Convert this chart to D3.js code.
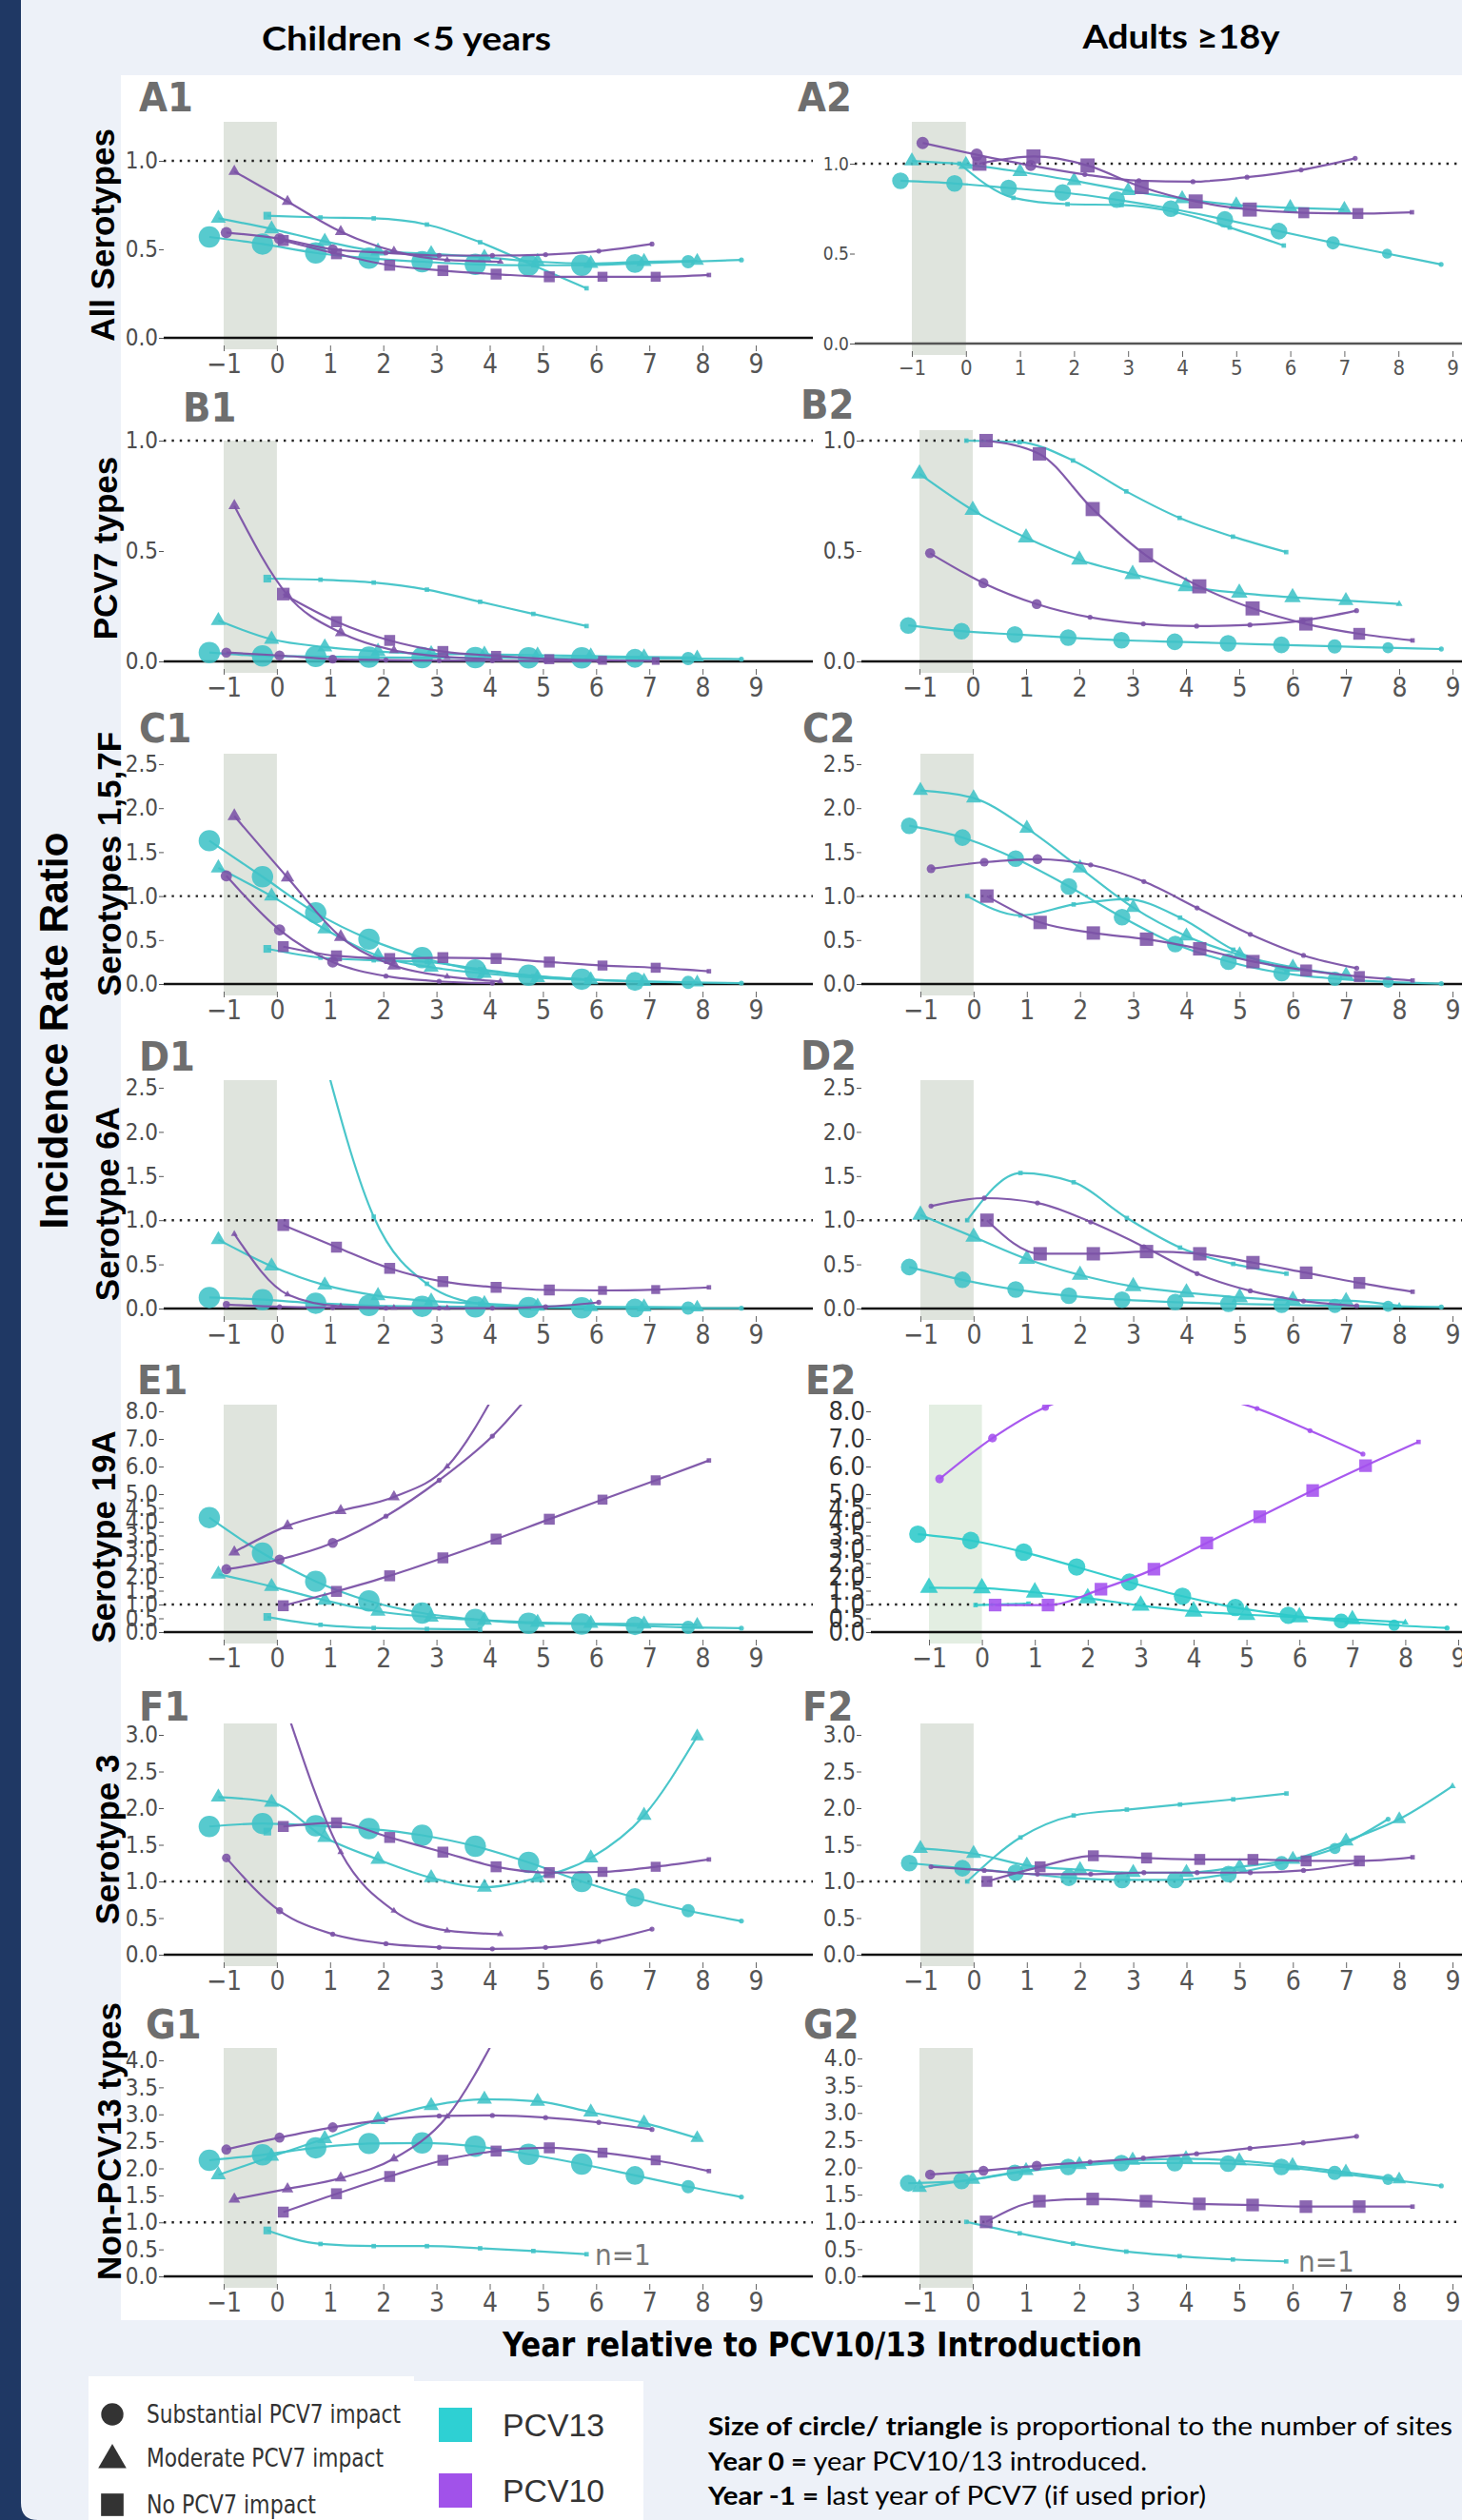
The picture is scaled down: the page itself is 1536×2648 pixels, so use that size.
<!DOCTYPE html>
<html>
<head>
<meta charset="utf-8">
<script src="https://cdnjs.cloudflare.com/ajax/libs/d3/7.8.5/d3.min.js"></script>
<style>
  body { margin: 0; background: #edf1f8; }
</style>
</head>
<body>
<svg id="fig" width="1536" height="2648"></svg>
<script>
// ---------- DATA (IRR by year relative to PCV10/13 introduction) ----------
// each series: vaccine, PCV7-impact shape, first year, IRR values, number of sites per point
const A1 = [
  {vac: "PCV13", shape: "circle",   from: -1, irr: [0.57,0.53,0.48,0.45,0.43,0.415,0.41,0.41,0.42,0.43,0.44], n: [18,18,18,18,18,18,18,18,14,7,1]},
  {vac: "PCV13", shape: "triangle", from: -1, irr: [0.675,0.615,0.545,0.49,0.475,0.455,0.43,0.42,0.43,0.435], n: [5,5,5,5,5,5,5,5,5,4]},
  {vac: "PCV13", shape: "square",   from: 0,  irr: [0.69,0.68,0.675,0.64,0.54,0.41,0.28], n: [3,1,1,1,1,1,1]},
  {vac: "PCV10", shape: "circle",   from: -1, irr: [0.595,0.56,0.50,0.48,0.465,0.465,0.47,0.49,0.53], n: [5,5,4,1,1,1,1,1,1]},
  {vac: "PCV10", shape: "triangle", from: -1, irr: [0.94,0.77,0.60,0.49,0.44,0.43], n: [3,3,3,2,1,1]},
  {vac: "PCV10", shape: "square",   from: 0,  irr: [0.55,0.475,0.41,0.38,0.36,0.345,0.345,0.345,0.355], n: [6,6,6,6,6,6,5,5,1]}
];
const A2 = [
  {vac: "PCV13", shape: "square",   from: 0,  irr: [1.0,0.81,0.775,0.77,0.73,0.645,0.545], n: [1,1,1,1,1,1,1]},
  {vac: "PCV13", shape: "circle",   from: -1, irr: [0.905,0.89,0.865,0.84,0.80,0.75,0.69,0.625,0.56,0.50,0.44], n: [11,11,11,11,11,11,11,11,7,4,1]},
  {vac: "PCV13", shape: "triangle", from: -1, irr: [1.015,0.995,0.955,0.905,0.85,0.805,0.77,0.755,0.745], n: [5,5,5,5,5,5,5,5,5]},
  {vac: "PCV10", shape: "circle",   from: -1, irr: [1.115,1.05,0.99,0.94,0.905,0.90,0.925,0.965,1.03], n: [6,6,5,1,1,1,1,1,1]},
  {vac: "PCV10", shape: "square",   from: 0,  irr: [1.0,1.04,0.99,0.87,0.79,0.745,0.727,0.723,0.73], n: [10,10,10,10,10,10,6,6,1]}
];
const B1 = [
  {vac: "PCV13", shape: "square",   from: 0,  irr: [0.375,0.37,0.357,0.325,0.27,0.215,0.16], n: [3,1,1,1,1,1,1]},
  {vac: "PCV13", shape: "triangle", from: -1, irr: [0.185,0.10,0.065,0.045,0.035,0.032,0.028,0.024,0.02,0.018], n: [5,5,5,5,5,5,5,5,5,4]},
  {vac: "PCV13", shape: "circle",   from: -1, irr: [0.04,0.025,0.022,0.019,0.017,0.017,0.016,0.016,0.014,0.013,0.01], n: [18,18,18,18,18,18,18,18,14,7,1]},
  {vac: "PCV10", shape: "circle",   from: -1, irr: [0.04,0.027,0.01,0.006,0.004,0.003,0.002,0.002], n: [4,4,3,1,1,1,1,1]},
  {vac: "PCV10", shape: "triangle", from: -1, irr: [0.705,0.30,0.13,0.05,0.02,0.01], n: [3,2,3,2,1,1]},
  {vac: "PCV10", shape: "square",   from: 0,  irr: [0.305,0.18,0.095,0.045,0.025,0.01,0.005,0.002], n: [8,6,6,6,5,5,4,3]}
];
const B2 = [
  {vac: "PCV13", shape: "square",   from: 0,  irr: [1.0,0.993,0.91,0.77,0.65,0.565,0.495], n: [1,1,1,1,1,1,1]},
  {vac: "PCV13", shape: "triangle", from: -1, irr: [0.85,0.685,0.56,0.46,0.395,0.34,0.31,0.29,0.275,0.26], n: [6,6,6,6,6,6,6,6,5,1]},
  {vac: "PCV13", shape: "circle",   from: -1, irr: [0.163,0.137,0.122,0.108,0.096,0.089,0.082,0.075,0.068,0.062,0.056], n: [11,11,11,11,11,11,11,11,8,5,1]},
  {vac: "PCV10", shape: "circle",   from: -1, irr: [0.49,0.355,0.26,0.20,0.17,0.16,0.165,0.185,0.23], n: [4,4,4,1,1,1,1,1,1]},
  {vac: "PCV10", shape: "square",   from: 0,  irr: [1.0,0.94,0.69,0.48,0.34,0.24,0.17,0.125,0.095], n: [9,9,10,10,10,10,9,7,1]}
];
const C1 = [
  {vac: "PCV13", shape: "square",   from: 0,  irr: [0.40,0.30,0.27,0.25,0.17,0.09,0.05], n: [3,1,1,1,1,1,1]},
  {vac: "PCV13", shape: "circle",   from: -1, irr: [1.63,1.22,0.81,0.51,0.30,0.16,0.10,0.055,0.03,0.018,0.01], n: [18,18,18,18,18,18,18,18,14,7,1]},
  {vac: "PCV13", shape: "triangle", from: -1, irr: [1.32,1.0,0.625,0.32,0.19,0.12,0.072,0.047,0.029,0.018], n: [5,5,5,5,5,5,5,5,5,4]},
  {vac: "PCV10", shape: "circle",   from: -1, irr: [1.23,0.615,0.25,0.09,0.03,0.01], n: [5,5,5,1,1,1]},
  {vac: "PCV10", shape: "triangle", from: -1, irr: [1.91,1.21,0.535,0.21,0.085,0.03], n: [4,4,4,4,1,1]},
  {vac: "PCV10", shape: "square",   from: 0,  irr: [0.425,0.32,0.29,0.30,0.29,0.25,0.21,0.185,0.145], n: [6,6,6,6,6,6,5,5,1]}
];
const C2 = [
  {vac: "PCV13", shape: "square",   from: 0,  irr: [1.0,0.78,0.905,0.965,0.755,0.39,0.155], n: [1,1,1,1,1,1,1]},
  {vac: "PCV13", shape: "triangle", from: -1, irr: [2.2,2.115,1.77,1.32,0.87,0.545,0.33,0.19,0.10], n: [5,5,5,5,5,5,5,5,5]},
  {vac: "PCV13", shape: "circle",   from: -1, irr: [1.80,1.665,1.425,1.11,0.76,0.455,0.255,0.125,0.06,0.022,0.005], n: [11,11,11,11,11,11,11,11,8,5,1]},
  {vac: "PCV10", shape: "circle",   from: -1, irr: [1.31,1.385,1.42,1.355,1.165,0.865,0.565,0.325,0.18], n: [3,3,4,1,1,1,1,1,1]},
  {vac: "PCV10", shape: "square",   from: 0,  irr: [1.0,0.70,0.58,0.51,0.40,0.255,0.155,0.085,0.04], n: [9,9,9,9,9,9,7,6,1]}
];
const D1 = [
  {vac: "PCV13", shape: "square",   from: 1,  irr: [3.0,1.04,0.28,0.055,0.015,0.01], n: [1,1,1,1,1,1]},
  {vac: "PCV13", shape: "triangle", from: -1, irr: [0.78,0.48,0.265,0.145,0.085,0.055,0.025,0.02,0.018,0.012], n: [5,5,5,5,5,5,5,5,5,4]},
  {vac: "PCV13", shape: "circle",   from: -1, irr: [0.125,0.10,0.06,0.035,0.025,0.018,0.012,0.008,0.006,0.005,0.004], n: [18,18,18,18,18,18,18,18,14,7,1]},
  {vac: "PCV10", shape: "circle",   from: -1, irr: [0.045,0.02,0.01,0.005,0.005,0.005,0.02,0.07], n: [2,1,1,1,1,1,1,1]},
  {vac: "PCV10", shape: "triangle", from: -1, irr: [0.845,0.16,0.025,0.01,0.005], n: [1,1,1,1,1]},
  {vac: "PCV10", shape: "square",   from: 0,  irr: [0.945,0.695,0.455,0.305,0.24,0.21,0.205,0.215,0.24], n: [7,6,6,6,6,6,4,4,1]}
];
const D2 = [
  {vac: "PCV13", shape: "square",   from: 0,  irr: [1.0,1.535,1.43,1.025,0.69,0.505,0.395], n: [1,1,1,1,1,1,1]},
  {vac: "PCV13", shape: "triangle", from: -1, irr: [1.06,0.81,0.56,0.38,0.25,0.18,0.125,0.095,0.09,0.03], n: [6,6,6,6,6,6,6,6,5,1]},
  {vac: "PCV13", shape: "circle",   from: -1, irr: [0.47,0.325,0.215,0.145,0.10,0.072,0.054,0.043,0.03,0.025,0.018], n: [11,11,11,11,11,11,11,11,8,5,1]},
  {vac: "PCV10", shape: "circle",   from: -1, irr: [1.16,1.25,1.195,0.98,0.70,0.395,0.20,0.085,0.03], n: [1,1,1,1,1,1,1,1,1]},
  {vac: "PCV10", shape: "square",   from: 0,  irr: [1.0,0.62,0.62,0.645,0.62,0.52,0.405,0.29,0.19], n: [9,9,9,9,9,9,8,7,1]}
];
const E1 = [
  {vac: "PCV13", shape: "square",   from: 0,  irr: [0.55,0.265,0.15,0.115,0.09], n: [3,1,1,1,1]},
  {vac: "PCV13", shape: "circle",   from: -1, irr: [4.15,2.86,1.84,1.13,0.69,0.46,0.32,0.29,0.23,0.17,0.14], n: [18,18,18,18,18,18,18,18,14,7,1]},
  {vac: "PCV13", shape: "triangle", from: -1, irr: [2.1,1.65,1.15,0.75,0.54,0.43,0.35,0.31,0.29,0.265], n: [5,5,5,5,5,5,5,5,5,4]},
  {vac: "PCV10", shape: "circle",   from: -1, irr: [2.28,2.63,3.23,4.2,5.5,7.1,9.3], n: [4,4,4,1,1,1,1]},
  {vac: "PCV10", shape: "triangle", from: -1, irr: [2.9,3.85,4.4,4.9,6.0,9.0], n: [3,3,3,3,1,1]},
  {vac: "PCV10", shape: "square",   from: 0,  irr: [0.955,1.475,2.04,2.69,3.37,4.09,4.8,5.5,6.22], n: [6,6,6,6,6,6,5,5,1]}
];
const E2 = [
  {vac: "PCV13", shape: "square",   from: 0,  irr: [0.98,1.03], n: [1,1]},
  {vac: "PCV13", shape: "triangle", from: -1, irr: [1.61,1.59,1.44,1.23,0.96,0.75,0.63,0.54,0.46,0.35], n: [7,7,7,7,7,7,7,7,6,1]},
  {vac: "PCV13", shape: "circle",   from: -1, irr: [3.55,3.32,2.9,2.36,1.81,1.3,0.89,0.61,0.4,0.25,0.15], n: [12,12,12,12,12,12,12,12,9,5,1]},
  {vac: "PCV10", shape: "circle",   from: -1, irr: [5.55,7.03,8.15,8.75,8.9,8.6,8.1,7.3,6.45], n: [3,3,2,1,1,1,1,1,1]},
  {vac: "PCV10", shape: "square",   from: 0,  irr: [0.98,0.98,1.555,2.28,3.23,4.18,5.13,6.03,6.89], n: [8,8,8,8,8,8,8,8,1]}
];
const F1 = [
  {vac: "PCV13", shape: "square",   from: 0,  irr: [1.68], n: [3]},
  {vac: "PCV13", shape: "circle",   from: -1, irr: [1.75,1.79,1.76,1.72,1.63,1.48,1.26,1.0,0.78,0.6,0.46], n: [18,18,18,18,18,18,18,18,14,7,1]},
  {vac: "PCV13", shape: "triangle", from: -1, irr: [2.15,2.08,1.6,1.3,1.05,0.92,1.05,1.32,1.9,2.98], n: [5,5,5,5,5,5,5,5,5,4]},
  {vac: "PCV10", shape: "circle",   from: -1, irr: [1.32,0.6,0.28,0.15,0.1,0.08,0.1,0.18,0.35], n: [3,2,1,1,1,1,1,1,1]},
  {vac: "PCV10", shape: "triangle", from: 0,  irr: [3.3,1.4,0.6,0.33,0.28], n: [1,1,1,1,1]},
  {vac: "PCV10", shape: "square",   from: 0,  irr: [1.75,1.8,1.6,1.4,1.2,1.12,1.13,1.2,1.3], n: [6,6,6,6,6,6,5,5,1]}
];
const F2 = [
  {vac: "PCV13", shape: "square",   from: 0,  irr: [1.0,1.6,1.9,1.98,2.05,2.12,2.2], n: [1,1,1,1,1,1,1]},
  {vac: "PCV13", shape: "triangle", from: -1, irr: [1.45,1.38,1.22,1.16,1.12,1.12,1.2,1.3,1.55,1.85,2.3], n: [5,5,5,5,5,5,5,5,5,4,1]},
  {vac: "PCV13", shape: "circle",   from: -1, irr: [1.25,1.18,1.12,1.05,1.02,1.02,1.1,1.25,1.45,1.85], n: [11,11,11,11,11,11,11,8,5,1]},
  {vac: "PCV10", shape: "circle",   from: -1, irr: [1.2,1.15,1.1,1.1,1.12,1.12,1.12,1.15,1.25], n: [1,1,1,1,1,1,1,1,1]},
  {vac: "PCV10", shape: "square",   from: 0,  irr: [1.0,1.2,1.35,1.32,1.3,1.3,1.28,1.28,1.33], n: [6,6,6,6,6,6,6,6,1]}
];
const G1 = [
  {vac: "PCV13", shape: "square",   from: 0,  irr: [0.85,0.6,0.56,0.56,0.52,0.47,0.41], n: [3,1,1,1,1,1,1]},
  {vac: "PCV13", shape: "triangle", from: -1, irr: [1.88,2.22,2.55,2.9,3.16,3.28,3.24,3.04,2.84,2.56], n: [5,5,5,5,5,5,5,5,5,4]},
  {vac: "PCV13", shape: "circle",   from: -1, irr: [2.15,2.25,2.38,2.46,2.47,2.41,2.26,2.08,1.87,1.66,1.47], n: [18,18,18,18,18,18,18,18,14,7,1]},
  {vac: "PCV10", shape: "circle",   from: -1, irr: [2.35,2.57,2.76,2.9,2.97,2.98,2.94,2.85,2.72], n: [4,4,4,1,1,1,1,1,1]},
  {vac: "PCV10", shape: "triangle", from: -1, irr: [1.43,1.62,1.82,2.18,2.96,4.6], n: [3,3,3,2,1,1]},
  {vac: "PCV10", shape: "square",   from: 0,  irr: [1.19,1.53,1.85,2.15,2.32,2.38,2.29,2.15,1.95], n: [6,6,6,6,6,6,5,5,1]}
];
const G2 = [
  {vac: "PCV13", shape: "square",   from: 0,  irr: [1.0,0.79,0.6,0.455,0.37,0.31,0.275], n: [1,1,1,1,1,1,1]},
  {vac: "PCV13", shape: "triangle", from: -1, irr: [1.63,1.78,1.94,2.05,2.13,2.16,2.12,2.03,1.91,1.78], n: [5,5,5,5,5,5,5,5,5,4]},
  {vac: "PCV13", shape: "circle",   from: -1, irr: [1.71,1.75,1.9,2.01,2.08,2.08,2.07,2.01,1.9,1.78,1.66], n: [11,11,11,11,11,11,11,11,8,5,1]},
  {vac: "PCV10", shape: "circle",   from: -1, irr: [1.87,1.94,2.03,2.1,2.17,2.25,2.35,2.45,2.57], n: [4,4,4,1,1,1,1,1,1]},
  {vac: "PCV10", shape: "square",   from: 0,  irr: [1.0,1.38,1.42,1.38,1.33,1.31,1.28,1.28,1.28], n: [8,8,8,8,8,8,8,8,1]}
];

const yearTicks = d3.range(-1, 10);
const ticksA = [0, 0.5, 1.0];
const ticksC = [0, 0.5, 1.0, 1.5, 2.0, 2.5];
const ticksE = [0, 0.5, 1, 1.5, 2, 2.5, 3, 3.5, 4, 4.5, 5, 6, 7, 8];
const ticksF = [0, 0.5, 1, 1.5, 2, 2.5, 3];
const ticksG = [0, 0.5, 1, 1.5, 2, 2.5, 3, 3.5, 4];

const rowTitles = ["All Serotypes", "PCV7 types", "Serotypes  1,5,7F", "Serotype 6A", "Serotype 19A", "Serotype 3", "Non-PCV13 types"];
const legendShapes = ["Substantial PCV7 impact", "Moderate PCV7 impact", "No PCV7 impact"];
const legendVaccines = ["PCV13", "PCV10"];

// ---------- STYLE / LAYOUT ----------
const colors = {PCV13: "#40c3c7", PCV10: "#7b52a6"};
const brightColors = {PCV13: "#2ccaca", PCV10: "#a350ee"};
const symbolType = {circle: d3.symbolCircle, triangle: d3.symbolTriangle, square: d3.symbolSquare};
const siteArea = 22;   // px^2 per site
const dodge = [
  {"PCV13-circle": -0.27, "PCV13-triangle": -0.1, "PCV13-square": -0.18, "PCV10-circle": 0.05, "PCV10-triangle": 0.2, "PCV10-square": 0.12},
  {"PCV13-circle": -0.21, "PCV13-triangle": 0.0, "PCV13-square": -0.12, "PCV10-circle": 0.2, "PCV10-triangle": 0.2, "PCV10-square": 0.25}
];

const panels = [
  {id: "A1", data: A1, col: 0, xr: [235, 794], left: 172, right: 854, zero: 355, topV: 1, topPx: 169, shade: 128, ticks: ticksA, lab: [146, 117]},
  {id: "A2", data: A2, col: 1, xr: [958, 1526], left: 898, right: 1536, zero: 361, topV: 1, topPx: 172, shade: 128, ticks: ticksA, lab: [838, 117], zeroColor: "#555", small: true},
  {id: "B1", data: B1, col: 0, xr: [235, 794], left: 172, right: 854, zero: 695, topV: 1, topPx: 463, shade: 463, ticks: ticksA, lab: [192, 443]},
  {id: "B2", data: B2, col: 1, xr: [966, 1526], left: 905, right: 1536, zero: 695, topV: 1, topPx: 463, shade: 452, ticks: ticksA, lab: [841, 440]},
  {id: "C1", data: C1, col: 0, xr: [235, 794], left: 172, right: 854, zero: 1034, topV: 2.5, topPx: 803, shade: 792, ticks: ticksC, lab: [146, 780]},
  {id: "C2", data: C2, col: 1, xr: [967, 1526], left: 905, right: 1536, zero: 1034, topV: 2.5, topPx: 803, shade: 792, ticks: ticksC, lab: [843, 780]},
  {id: "D1", data: D1, col: 0, xr: [235, 794], left: 172, right: 854, zero: 1375, topV: 2.5, topPx: 1143, shade: 1135, ticks: ticksC, lab: [146, 1125]},
  {id: "D2", data: D2, col: 1, xr: [967, 1526], left: 905, right: 1536, zero: 1375, topV: 2.5, topPx: 1143, shade: 1135, ticks: ticksC, lab: [841, 1124]},
  {id: "E1", data: E1, col: 0, xr: [235, 794], left: 172, right: 854, zero: 1715, topV: 8, topPx: 1483, shade: 1476, ticks: ticksE, lab: [144, 1465]},
  {id: "E2", data: E2, col: 1, xr: [976, 1532], left: 915, right: 1536, zero: 1715, topV: 8, topPx: 1483, shade: 1476, ticks: ticksE, lab: [846, 1465], bright: true},
  {id: "F1", data: F1, col: 0, xr: [235, 794], left: 172, right: 854, zero: 2054, topV: 3, topPx: 1823, shade: 1811, ticks: ticksF, lab: [146, 1808]},
  {id: "F2", data: F2, col: 1, xr: [967, 1526], left: 905, right: 1536, zero: 2054, topV: 3, topPx: 1823, shade: 1811, ticks: ticksF, lab: [843, 1808]},
  {id: "G1", data: G1, col: 0, xr: [235, 794], left: 172, right: 854, zero: 2392, topV: 4, topPx: 2165, shade: 2152, ticks: ticksG, lab: [153, 2142], note: [625, 2380]},
  {id: "G2", data: G2, col: 1, xr: [966, 1526], left: 906, right: 1536, zero: 2392, topV: 4, topPx: 2163, shade: 2152, ticks: ticksG, lab: [844, 2142], note: [1364, 2387]}
];
const rowLabelPos = [[107, 247], [110, 576], [114, 908], [112, 1265], [108, 1615], [112, 1933], [114, 2250]];

// ---------- DRAW ----------
const svg = d3.select("#fig");
const defs = svg.append("defs");
const NARROW = "'Liberation Sans Narrow','Arial Narrow','DejaVu Sans Condensed','Roboto Condensed','Liberation Sans',sans-serif";

// frame
svg.append("rect").attr("width", 1536).attr("height", 2648).attr("fill", "#1f3864");
svg.append("path")
  .attr("d", "M22,0 H1536 V2648 H40 Q22,2648 22,2630 Z")
  .attr("fill", "#edf1f8");
svg.append("rect").attr("x", 127).attr("y", 79).attr("width", 1409).attr("height", 2359).attr("fill", "#fff");

// column headers
svg.append("text").attr("x", 427).attr("y", 53).attr("text-anchor", "middle")
  .attr("font-family", "Lato, 'Open Sans', sans-serif").attr("font-weight", 700).attr("font-size", 35)
  .attr("textLength", 304).attr("lengthAdjust", "spacingAndGlyphs").text("Children <5 years");
svg.append("text").attr("x", 1241).attr("y", 51).attr("text-anchor", "middle")
  .attr("font-family", "Lato, 'Open Sans', sans-serif").attr("font-weight", 700).attr("font-size", 35)
  .attr("textLength", 207).attr("lengthAdjust", "spacingAndGlyphs").text("Adults \u226518y");

panels.forEach(p => {
  const g = svg.append("g");
  const x = d3.scaleLinear().domain([-1, 9]).range(p.xr);
  const y = d3.scaleLinear().domain([0, p.topV]).range([p.zero, p.topPx]);
  const col = p.bright ? brightColors : colors;

  // PCV7 last-year shading
  g.append("rect")
    .attr("x", x(-1)).attr("width", x(0) - x(-1))
    .attr("y", p.shade).attr("height", p.zero + 12 - p.shade)
    .attr("fill", p.bright ? "#e3eee2" : "#dfe4dd");

  // reference line IRR = 1
  g.append("line")
    .attr("x1", p.left).attr("x2", p.right).attr("y1", y(1)).attr("y2", y(1))
    .attr("stroke", "#222").attr("stroke-width", 2.4).attr("stroke-dasharray", "2.4,6");
  // zero line
  g.append("line")
    .attr("x1", p.left).attr("x2", p.right).attr("y1", y(0)).attr("y2", y(0))
    .attr("stroke", p.zeroColor || "#111").attr("stroke-width", 2.6);

  // y axis
  g.append("g").attr("transform", `translate(${p.left},0)`)
    .call(d3.axisLeft(y).tickValues(p.ticks).tickFormat(d3.format(".1f")).tickSize(5).tickPadding(1))
    .call(a => a.select(".domain").remove())
    .call(a => a.selectAll("line").attr("stroke", "#555"))
    .call(a => a.selectAll("text").attr("font-family", NARROW)
      .attr("font-size", p.bright ? 27 : (p.small ? 19 : 24)).attr("fill", p.bright ? "#333" : "#4d4d4d"));

  // x axis
  g.append("g").attr("transform", `translate(0,${p.zero + 8})`)
    .call(d3.axisBottom(x).tickValues(yearTicks).tickFormat(d3.format("d")).tickSize(6).tickPadding(3))
    .call(a => a.select(".domain").remove())
    .call(a => a.selectAll("line").attr("stroke", "#666"))
    .call(a => a.selectAll("text").attr("font-family", NARROW)
      .attr("font-size", p.small ? 22 : 28).attr("fill", "#555"));

  // panel letter
  g.append("text").attr("x", p.lab[0]).attr("y", p.lab[1])
    .attr("font-family", NARROW).attr("font-weight", 700).attr("font-size", 43)
    .attr("fill", "#6e6e6e").text(p.id);

  // series
  const clipId = "clip" + p.id;
  defs.append("clipPath").attr("id", clipId).append("rect")
    .attr("x", p.left).attr("y", p.shade).attr("width", p.right - p.left).attr("height", p.zero + 16 - p.shade);
  const m = g.append("g").attr("clip-path", `url(#${clipId})`);
  const line = d3.line().x(d => d.x).y(d => d.y).curve(d3.curveMonotoneX);

  p.data.forEach(s => {
    const off = dodge[p.col][s.vac + "-" + s.shape];
    const pts = s.irr.map((v, i) => ({x: x(s.from + i + off), y: y(v), n: s.n[i]}));
    m.append("path").attr("d", line(pts)).attr("fill", "none")
      .attr("stroke", col[s.vac]).attr("stroke-width", 2.2).attr("stroke-opacity", 0.95);
    m.selectAll(null).data(pts).join("path")
      .attr("transform", d => `translate(${d.x},${d.y})`)
      .attr("d", d => d3.symbol(symbolType[s.shape], d.n * siteArea)())
      .attr("fill", col[s.vac]).attr("fill-opacity", 0.88);
  });

  if (p.note) {
    g.append("text").attr("x", p.note[0]).attr("y", p.note[1])
      .attr("font-family", NARROW).attr("font-size", 31).attr("fill", "#777").text("n=1");
  }
});

// row titles
rowTitles.forEach((t, i) => {
  svg.append("text")
    .attr("transform", `translate(${rowLabelPos[i][0]},${rowLabelPos[i][1]}) rotate(-90)`)
    .attr("text-anchor", "middle").attr("dominant-baseline", "central")
    .attr("font-family", "'Liberation Sans', Arial, sans-serif").attr("font-weight", 700)
    .attr("font-size", 35).attr("fill", "#000").text(t);
});
svg.append("text")
  .attr("transform", "translate(56,1083) rotate(-90)")
  .attr("text-anchor", "middle").attr("dominant-baseline", "central")
  .attr("font-family", "'Liberation Sans', Arial, sans-serif").attr("font-weight", 700)
  .attr("font-size", 42).attr("textLength", 417).attr("lengthAdjust", "spacingAndGlyphs")
  .text("Incidence Rate Ratio");

// x-axis title
svg.append("text").attr("x", 864).attr("y", 2476).attr("text-anchor", "middle")
  .attr("font-family", NARROW).attr("font-weight", 700).attr("font-size", 36)
  .attr("textLength", 672).attr("lengthAdjust", "spacingAndGlyphs")
  .text("Year relative to PCV10/13 Introduction");

// legend
svg.append("rect").attr("x", 93).attr("y", 2497).attr("width", 342).attr("height", 151).attr("fill", "#fff");
svg.append("rect").attr("x", 435).attr("y", 2502).attr("width", 241).attr("height", 146).attr("fill", "#fff");
const shapeKeys = ["circle", "triangle", "square"];
const shapeRowsY = [2537, 2583, 2632];
const shapeLens = [267, 249, 178];
legendShapes.forEach((t, i) => {
  svg.append("path").attr("transform", `translate(118,${shapeRowsY[i] + (i === 1 ? 2 : 0)})`)
    .attr("d", d3.symbol(symbolType[shapeKeys[i]], i === 0 ? 430 : (i === 1 ? 380 : 560))())
    .attr("fill", "#333");
  svg.append("text").attr("x", 154).attr("y", shapeRowsY[i] + 9)
    .attr("font-family", NARROW).attr("font-size", 26).attr("fill", "#333")
    .attr("textLength", shapeLens[i]).attr("lengthAdjust", "spacingAndGlyphs").text(t);
});
const vacY = [2548, 2617];
const legendFill = {PCV13: "#2ed0d3", PCV10: "#a152ea"};
legendVaccines.forEach((v, i) => {
  svg.append("rect").attr("x", 461).attr("y", vacY[i] - 18).attr("width", 35).attr("height", 36).attr("fill", legendFill[v]);
  svg.append("text").attr("x", 528).attr("y", vacY[i] + 12)
    .attr("font-family", "'Liberation Sans', Arial, sans-serif").attr("font-size", 33).attr("fill", "#333")
    .attr("textLength", 107).attr("lengthAdjust", "spacingAndGlyphs").text(v);
});

// notes
const notes = [
  {b: "Size of circle/ triangle", r: " is proportional to the number of sites", y: 2559, len: 782},
  {b: "Year 0 =", r: " year PCV10/13 introduced.", y: 2596, len: 461},
  {b: "Year -1 =", r: " last year of PCV7 (if used prior)", y: 2632, len: 523}
];
notes.forEach(nt => {
  const t = svg.append("text").attr("x", 744).attr("y", nt.y)
    .attr("font-family", "Lato, 'Open Sans', sans-serif").attr("font-size", 26).attr("fill", "#000")
    .attr("textLength", nt.len).attr("lengthAdjust", "spacingAndGlyphs");
  t.append("tspan").attr("font-weight", 700).text(nt.b);
  t.append("tspan").text(nt.r);
});
</script>
</body>
</html>
